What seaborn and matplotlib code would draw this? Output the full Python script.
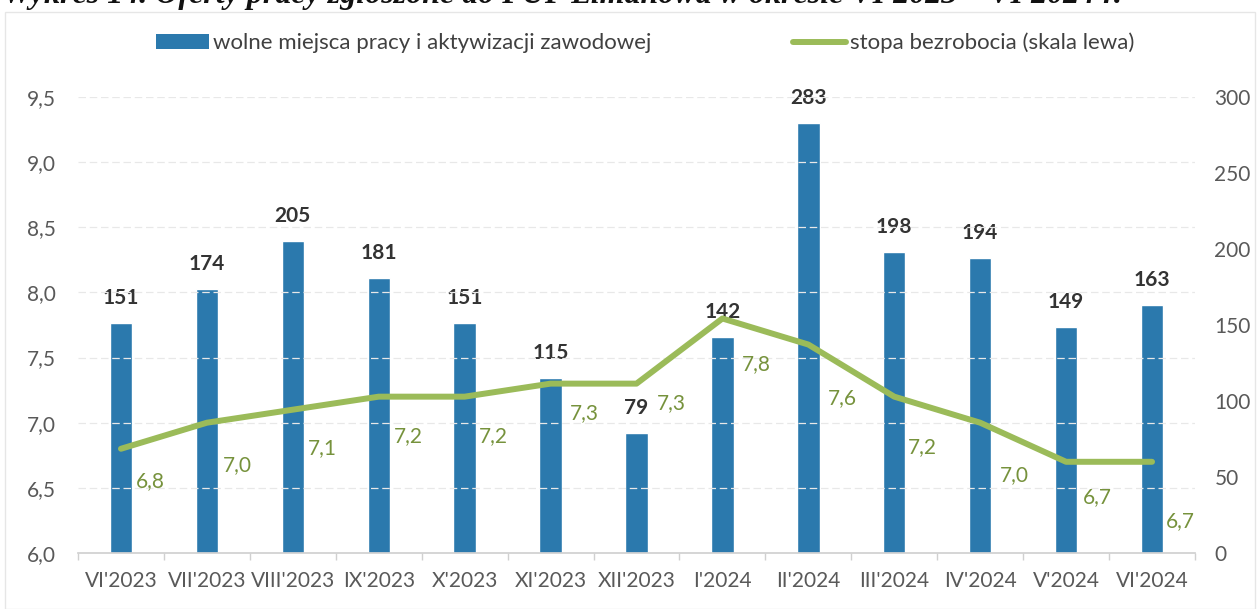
import numpy as np
import pandas as pd
import matplotlib
matplotlib.use("Agg")
import matplotlib.pyplot as plt
from matplotlib.patches import Patch, Rectangle
from matplotlib.lines import Line2D
import seaborn as sns

categories = ["VI'2023", "VII'2023", "VIII'2023", "IX'2023", "X'2023", "XI'2023", "XII'2023",
              "I'2024", "II'2024", "III'2024", "IV'2024", "V'2024", "VI'2024"]
vacancies = [151, 174, 205, 181, 151, 115, 79, 142, 283, 198, 194, 149, 163]
unemployment = [6.8, 7.0, 7.1, 7.2, 7.2, 7.3, 7.3, 7.8, 7.6, 7.2, 7.0, 6.7, 6.7]
left_ticks = [6.0, 6.5, 7.0, 7.5, 8.0, 8.5, 9.0, 9.5]
right_ticks = [0, 50, 100, 150, 200, 250, 300]
title = "Wykres 14. Oferty pracy zgłoszone do PUP Limanowa w okresie VI 2023 – VI 2024 r."
bar_label = "wolne miejsca pracy i aktywizacji zawodowej"
line_label = "stopa bezrobocia (skala lewa)"

# label offsets (pixels) for line value labels: (dx, dy downward)
line_label_offsets = [(29, 32), (30, 42), (30, 38), (30, 39), (29, 39), (34, 29), (35, 19),
                      (34, 46), (34, 54), (28, 50), (34, 52), (31, 35), (28, 59)]

sns.set_theme(style="white")
plt.rcParams['font.family'] = ['Lato', 'DejaVu Sans']

BAR = "#2B79AD"
LINE = "#9BBB59"
LINE_TXT = "#76923C"
TICK = "#595959"
FS = 15

fig = plt.figure(figsize=(12.6, 6.09), dpi=100)
ax = fig.add_axes([78/1260, (609-553)/609, (1195-78)/1260, (553-97)/609])

df = pd.DataFrame({"cat": categories, "val": vacancies})
sns.barplot(data=df, x="cat", y="val", color=BAR, width=0.26, saturation=1, ax=ax, zorder=2)
ax.set_xlabel("")
ax.set_ylabel("")

ax2 = ax.twinx()
dfl = pd.DataFrame({"x": np.arange(len(categories)), "y": unemployment})
sns.lineplot(data=dfl, x="x", y="y", color=LINE, linewidth=4.3, ax=ax2, zorder=3)
ax2.set_ylim(6.0, 9.5)
ax2.set_yticks(left_ticks)
ax2.set_yticklabels([f"{t:.1f}".replace(".", ",") for t in left_ticks])
ax2.set_xlabel("")
ax2.set_ylabel("")

ax.set_ylim(0, 300)
ax.set_yticks(right_ticks)
ax.set_xlim(-0.5, len(categories) - 0.5)
ax2.set_xlim(-0.5, len(categories) - 0.5)
ax.yaxis.tick_right()
ax2.yaxis.tick_left()

for t in left_ticks[1:]:
    ax2.axhline(t, color="#E8E8E8", linewidth=0.9, linestyle=(0, (6, 3)), zorder=0)

for a in (ax, ax2):
    for s in a.spines.values():
        s.set_visible(False)
    a.tick_params(axis="both", which="major", length=0, labelsize=FS, colors=TICK)
ax.spines["bottom"].set_visible(True)
ax.spines["bottom"].set_color("#D0D0D0")
ax.tick_params(axis="y", pad=14)
ax2.tick_params(axis="y", pad=16)
ax.tick_params(axis="x", pad=13)
ax.set_xticks(np.arange(-0.5, len(categories), 1.0), minor=True)
ax.tick_params(axis="x", which="minor", length=5, color="#D0D0D0", width=1, bottom=True)

# bar value labels
for i, v in enumerate(vacancies):
    ax.annotate(str(v), (i, v), xytext=(0, 15), textcoords="offset pixels",
                ha="center", va="bottom", fontsize=FS, fontweight="bold", color="#333333")

# line value labels
for i, (v, off) in enumerate(zip(unemployment, line_label_offsets)):
    ax2.annotate(f"{v:.1f}".replace(".", ","), (i, v), xytext=(off[0], -off[1]),
                 textcoords="offset pixels", ha="center", va="center",
                 fontsize=FS, color=LINE_TXT)

handles = [Patch(facecolor=BAR, edgecolor="none"), Line2D([], [], color=LINE, linewidth=4.3)]
fig.legend(handles, [bar_label, line_label], loc="center", bbox_to_anchor=(645/1260, 1 - 43/609),
           ncol=2, frameon=False, fontsize=16, handlelength=2.4, handletextpad=0.15,
           columnspacing=6.4, labelcolor="#404040")

fig.patches.append(Rectangle((5/1260, 0.0), 1250/1260, 1 - 12/609, transform=fig.transFigure,
                             fill=False, edgecolor="#E6E6E6", linewidth=1.0))

fig.text(3/1260, 1 - 3/609, title, ha="left", va="baseline", fontsize=23,
         fontweight="bold", fontstyle="italic", family=["Liberation Serif", "DejaVu Serif"],
         color="#111111")

fig.savefig("out.png", dpi=100)
